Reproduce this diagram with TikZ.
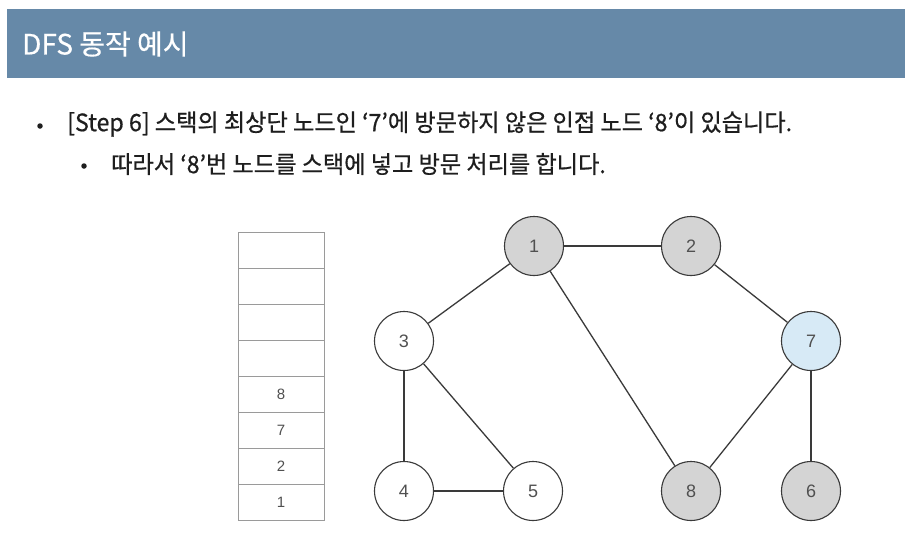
\documentclass[tikz,border=0pt]{standalone}
\usepackage{fontspec}
\setmainfont{Liberation Sans}
\newfontfamily\kr[FakeBold=0.6]{Noto Sans CJK KR}
\newfontfamily\krt[FakeBold=0.4]{Noto Sans CJK KR}
\newfontfamily\num{Liberation Sans}
\definecolor{band}{HTML}{6689A8}
\definecolor{visited}{HTML}{D4D4D4}
\definecolor{current}{HTML}{D7EAF6}
\definecolor{ink}{HTML}{3A3A3A}
\definecolor{txt}{HTML}{1E1E1E}
\definecolor{numc}{HTML}{505050}
\definecolor{cellline}{HTML}{9A9A9A}
\tikzset{
  gnode/.style={circle, draw=ink, line width=1.1pt, minimum size=59pt, inner sep=0pt,
    font=\num\fontsize{18}{18}\selectfont, text=numc},
  plain/.style={gnode, fill=white},
  seen/.style={gnode, fill=visited},
  cur/.style={gnode, fill=current},
  edge/.style={draw=ink, line width=1.3pt},
  cell/.style={draw=cellline, line width=0.8pt, minimum width=86pt, minimum height=36pt,
    inner sep=0pt, font=\num\fontsize{15}{15}\selectfont, text=numc},
  body/.style={anchor=west, inner sep=0pt, text=txt, xscale=0.965, transform shape,
    font=\kr\fontsize{24}{24}\selectfont},
  bullet/.style={circle, fill=txt, inner sep=0pt, minimum size=5.5pt},
}
\begin{document}
\begin{tikzpicture}[x=1pt,y=-1pt]
\useasboundingbox (0,0) rectangle (910,541);
\fill[white] (0,0) rectangle (910,541);
% header band
\node[fill=band, minimum width=898pt, minimum height=69pt, inner sep=0pt, anchor=north west] (band) at (7,9) {};
\node[anchor=west, inner sep=0pt, text=white, font=\krt\fontsize{28}{28}\selectfont] (title) at (22,44) {DFS 동작 예시};
% bullets
\node[bullet] (b1) at (40,126) {};
\node[body] (t1) at (67,124) {[Step 6] 스택의 최상단 노드인 ‘7’에 방문하지 않은 인접 노드 ‘8’이 있습니다.};
\node[bullet] (b2) at (84,166) {};
\node[body] (t2) at (111,164) {따라서 ‘8’번 노드를 스택에 넣고 방문 처리를 합니다.};
% stack
\node[cell] (s8) at (281,250) {};
\node[cell] (s7) at (281,286) {};
\node[cell] (s6) at (281,322) {};
\node[cell] (s5) at (281,358) {};
\node[cell] (s4) at (281,394) {8};
\node[cell] (s3) at (281,430) {7};
\node[cell] (s2) at (281,466) {2};
\node[cell] (s1) at (281,502) {1};
% graph
\node[seen] (n1) at (534,246) {1};
\node[seen] (n2) at (691,246) {2};
\node[plain] (n3) at (404,341) {3};
\node[cur] (n7) at (811,341) {7};
\node[plain] (n4) at (404,491) {4};
\node[plain] (n5) at (533,491) {5};
\node[seen] (n8) at (691,491) {8};
\node[seen] (n6) at (811,491) {6};
\draw[edge] (n1) -- (n2);
\draw[edge] (n1) -- (n3);
\draw[edge] (n1) -- (n8);
\draw[edge] (n2) -- (n7);
\draw[edge] (n7) -- (n8);
\draw[edge] (n7) -- (n6);
\draw[edge] (n3) -- (n4);
\draw[edge] (n3) -- (n5);
\draw[edge] (n4) -- (n5);
\end{tikzpicture}
\end{document}
